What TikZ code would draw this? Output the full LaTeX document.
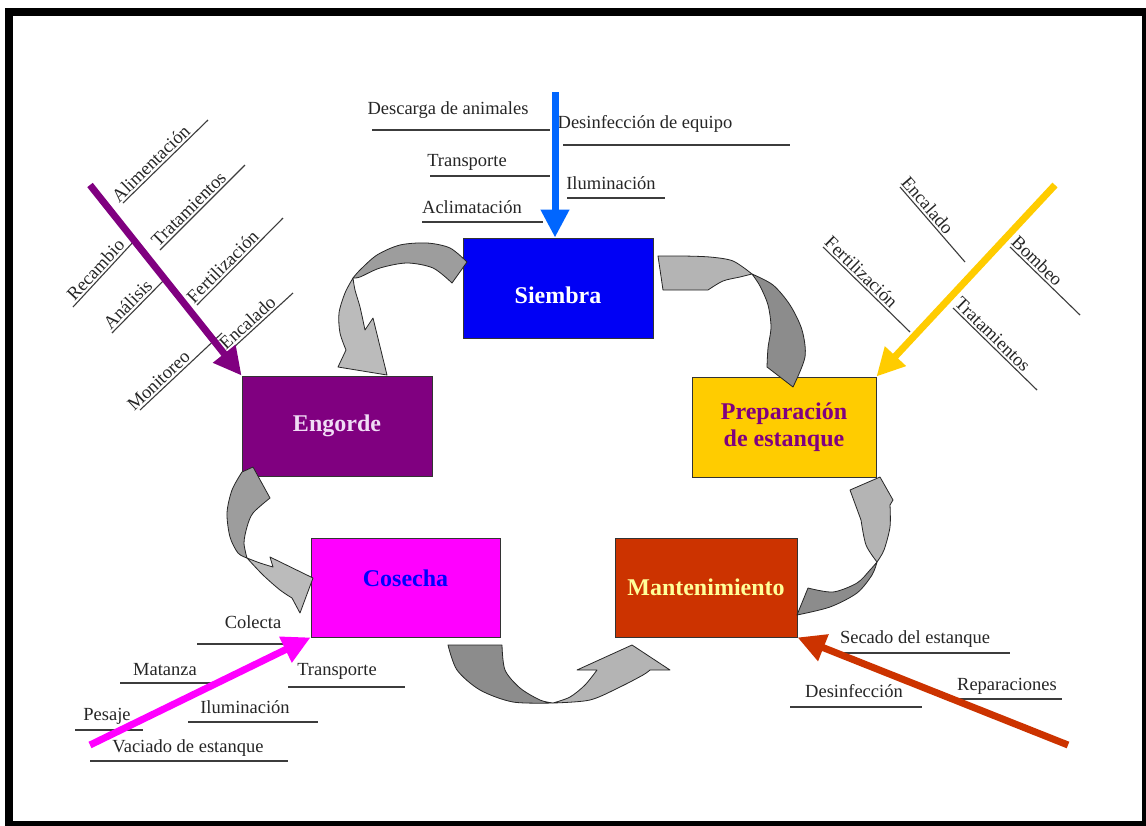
\documentclass[tikz,border=0pt]{standalone}
\usepackage{fontspec}
\setmainfont{Liberation Serif}
\usetikzlibrary{arrows.meta,calc}
\definecolor{cSiembra}{RGB}{0,0,245}
\definecolor{cEngorde}{RGB}{128,0,128}
\definecolor{cPrep}{RGB}{255,204,0}
\definecolor{cCosecha}{RGB}{255,0,255}
\definecolor{cMant}{RGB}{204,51,0}
\definecolor{cBlueArr}{RGB}{0,102,255}
\definecolor{cEngText}{RGB}{240,220,245}
\definecolor{cMantText}{RGB}{255,255,153}
\definecolor{gdark}{RGB}{140,140,140}
\definecolor{glight}{RGB}{180,180,180}
\definecolor{boneCol}{RGB}{60,60,60}
\begin{document}
\begin{tikzpicture}[x=1pt,y=-1pt,
  box/.style={draw=black!80, line width=0.8pt, minimum height=100pt, inner sep=0pt,
    font=\fontsize{24}{27}\selectfont\bfseries, align=center},
  lab/.style={font=\fontsize{18.5}{20}\selectfont, inner sep=0pt, anchor=base, text=black!85},
  rlab/.style={font=\fontsize{18.5}{20}\selectfont, inner sep=2pt, sloped, above, text=black!85},
  bone/.style={draw=boneCol, line width=1.1pt},
  sarrow/.style={line width=7pt, -{Triangle[length=28pt,width=27pt]}},
  garrow/.style={draw=black!85, line width=0.8pt, line join=round}]
\useasboundingbox (0,0) rectangle (1146,825);
\fill[white] (0,0) rectangle (1146,825);
\draw[line width=8pt] (9,11.5) rectangle (1146,825);

% ---- boxes
\node[box, fill=cSiembra, text=white, minimum width=190pt] (siembra) at (558,288) {\raisebox{-15pt}[0pt][0pt]{Siembra}};
\node[box, fill=cEngorde, text=cEngText, minimum width=190pt] (engorde) at (337,426) {Engorde};
\node[box, fill=cPrep, text=cEngorde, minimum width=184pt] (prep) at (784,427) {Preparación\\de estanque};
\node[box, fill=cCosecha, text=blue, minimum width=189pt, minimum height=99pt] (cosecha) at (405.5,587.5) {\raisebox{1.5pt}[0pt][0pt]{Cosecha}};
\node[box, fill=cMant, text=cMantText, minimum width=182pt, minimum height=99pt] (mant) at (706,587.5) {Mantenimiento};

% ---- Siembra labels
\draw[bone] (372,130) -- (550,130);
\node[lab] (s1) at (448,114) {Descarga de animales};
\draw[bone] (563,145) -- (790,145);
\node[lab] (s2) at (645,128) {Desinfección de equipo};
\draw[bone] (430,176) -- (550,176);
\node[lab] (s3) at (467,166) {Transporte};
\draw[bone] (567,198) -- (665,198);
\node[lab] (s4) at (611,189) {Iluminación};
\draw[bone] (422,222) -- (543,222);
\node[lab] (s5) at (472,213) {Aclimatación};

% ---- Engorde labels
\draw[bone] (123,203) -- node[rlab, pos=.40] (e1) {Alimentación} (208,120);
\draw[bone] (160,250) -- node[rlab, pos=.41] (e2) {Tratamientos} (245,165);
\draw[bone] (73,307) -- node[rlab, pos=.47] (e3) {Recambio} (135,240);
\draw[bone] (112,333) -- node[rlab, pos=.40] (e4) {Análisis} (167,277);
\draw[bone] (197,305) -- node[rlab, pos=.37] (e5) {Fertilización} (283,218);
\draw[bone] (233,348) -- node[rlab, pos=.34] (e6) {Encalado} (293,293);
\draw[bone] (140,410) -- node[rlab, pos=.30] (e7) {Monitoreo} (222,333);

% ---- Preparacion labels
\draw[bone] (900,187) -- node[rlab, pos=.32] (p1) {Encalado} (965,262);
\draw[bone] (823,247) -- node[rlab, pos=.37] (p2) {Fertilización} (910,332);
\draw[bone] (1010,247) -- node[rlab, pos=.30] (p3) {Bombeo} (1080,315);
\draw[bone] (953,308) -- node[rlab, pos=.40] (p4) {Tratamientos} (1037,390);

% ---- Cosecha labels
\draw[bone] (197,644) -- (293,644);
\node[lab] (c1) at (253,628) {Colecta};
\draw[bone] (120,683) -- (212,683);
\node[lab] (c2) at (165,675) {Matanza};
\draw[bone] (288,687) -- (405,687);
\node[lab] (c3) at (337,675) {Transporte};
\draw[bone] (188,722) -- (318,722);
\node[lab] (c4) at (245,713) {Iluminación};
\draw[bone] (75,730) -- (143,730);
\node[lab] (c5) at (107,720) {Pesaje};
\draw[bone] (90,761) -- (288,761);
\node[lab] (c6) at (188,752) {Vaciado de estanque};

% ---- Mantenimiento labels
\draw[bone] (843,653) -- (1010,653);
\node[lab] (m1) at (915,643) {Secado del estanque};
\draw[bone] (790,707) -- (922,707);
\node[lab] (m2) at (854,697) {Desinfección};
\draw[bone] (955,699) -- (1062,699);
\node[lab] (m3) at (1007,690) {Reparaciones};

% ---- straight arrows
\coordinate (bS) at (555,92);
\draw[sarrow, cBlueArr] (bS) -- (bS |- siembra.north);
\coordinate (pS) at (90,185);
\draw[sarrow, cEngorde] (pS) -- (engorde.north west);
\coordinate (yS) at (1055,185);
\draw[sarrow, cPrep] (yS) -- (prep.north east);
\coordinate (mS) at (90,745);
\draw[sarrow, cCosecha] (mS) -- (cosecha.south west);
\coordinate (rS) at (1068,745);
\draw[sarrow, cMant] (rS) -- (mant.south east);

% ---- curved block arrows
% Siembra -> Engorde
\filldraw[garrow, fill=gdark!85!white] plot[smooth] coordinates {(467,262)(450,248)(427,243)(400,245)(377,255)(360,270)(353,278)}
  -- plot[smooth] coordinates {(353,278)(360,277)(380,268)(407,263)(433,268)(452,283)} -- cycle;
\filldraw[garrow, fill=glight!90!white] plot[smooth] coordinates {(353,278)(345,293)(339,313)(340,333)(346,350)}
  -- (338,367) -- (387,375) -- (373,318) -- (365,330)
  -- plot[smooth] coordinates {(365,330)(360,307)(355,290)(353,278)} -- cycle;
% Preparacion -> Siembra
\filldraw[garrow, fill=gdark] plot[smooth] coordinates {(793,387)(805,357)(802,330)(790,305)(773,285)(752,274)}
  -- plot[smooth] coordinates {(752,274)(760,286)(768,305)(771,327)(768,348)(767,367)} -- cycle;
\filldraw[garrow, fill=glight] plot[smooth] coordinates {(752,274)(733,261)(710,257)(683,256)}
  -- (658,256) -- (663,290) -- (708,290)
  -- plot[smooth] coordinates {(708,290)(723,281)(740,277)(752,274)} -- cycle;
% Engorde -> Cosecha
\filldraw[garrow, fill=gdark!85!white] plot[smooth] coordinates {(247,558)(238,553)(230,537)(227,513)(232,490)(242,472)}
  -- (253,467) -- (270,498)
  -- plot[smooth] coordinates {(270,498)(253,513)(247,527)(244,543)(247,558)} -- cycle;
\filldraw[garrow, fill=glight!90!white] plot[smooth] coordinates {(247,558)(263,575)(280,590)(292,598)}
  -- (300,613) -- (313,578) -- (270,557) -- (273,567)
  -- plot[smooth] coordinates {(273,567)(260,563)(247,558)} -- cycle;
% Cosecha -> Mantenimiento
\filldraw[garrow, fill=gdark] (448,645) -- (502,645)
  -- plot[smooth] coordinates {(502,645)(505,670)(520,688)(540,700)(553,703)}
  -- plot[smooth] coordinates {(553,703)(513,702)(480,690)(457,670)(448,645)} -- cycle;
\filldraw[garrow, fill=glight] plot[smooth] coordinates {(553,703)(590,700)(620,687)(643,675)(650,670)}
  -- (670,670) -- (632,645) -- (577,670) -- (597,670)
  -- plot[smooth] coordinates {(597,670)(585,685)(570,697)(553,703)} -- cycle;
% Mantenimiento -> Preparacion
\filldraw[garrow, fill=gdark] plot[smooth] coordinates {(797,615)(830,607)(857,593)(872,575)(877,562)}
  -- plot[smooth] coordinates {(877,562)(870,570)(857,583)(833,592)(808,588)} -- cycle;
\filldraw[garrow, fill=glight] plot[smooth] coordinates {(877,562)(884,550)(890,527)(890,505)}
  -- (893,500) -- (880,477) -- (850,490) -- (861,520)
  -- plot[smooth] coordinates {(861,520)(866,545)(877,562)} -- cycle;
\end{tikzpicture}
\end{document}
